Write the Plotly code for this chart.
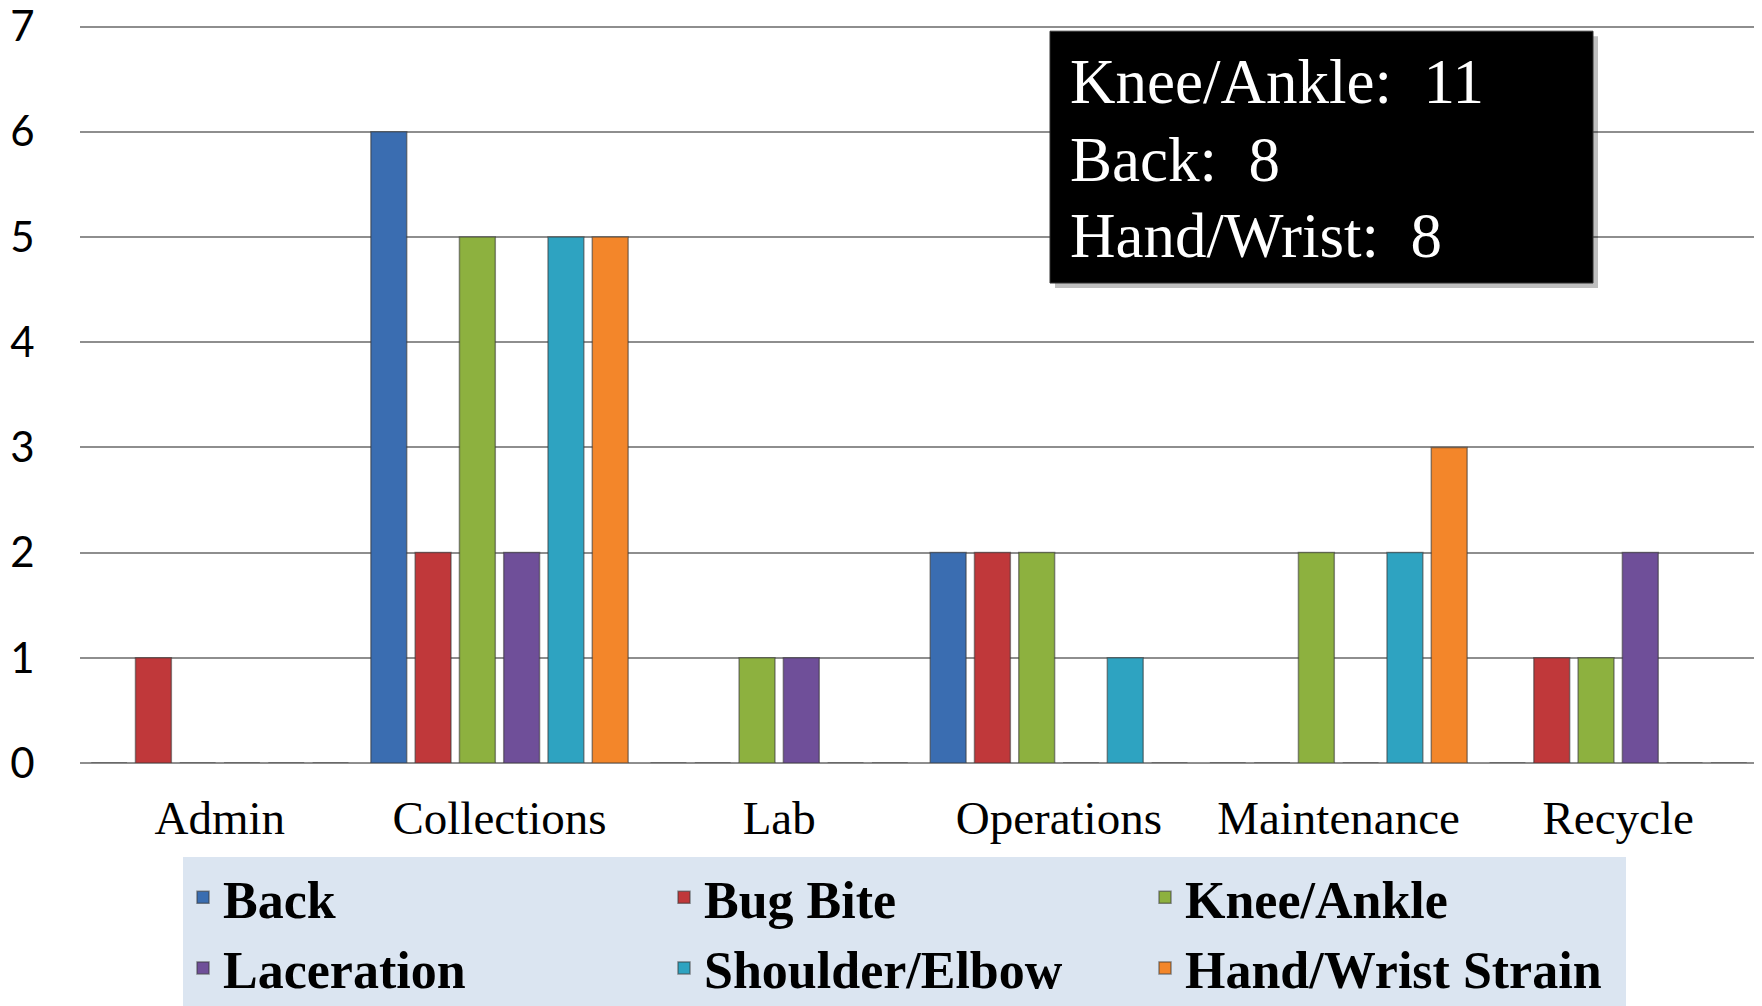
import plotly.graph_objects as go

categories = ["Admin", "Collections", "Lab", "Operations", "Maintenance", "Recycle"]
back = [0, 6, 0, 2, 0, 0]
bug_bite = [1, 2, 0, 2, 0, 1]
knee_ankle = [0, 5, 1, 2, 2, 1]
laceration = [0, 2, 1, 0, 0, 2]
shoulder_elbow = [0, 5, 0, 1, 2, 0]
hand_wrist = [0, 5, 0, 0, 3, 0]
y_ticks = [0, 1, 2, 3, 4, 5, 6, 7]

series = [
    ("Back", back, "#3a6db1"),
    ("Bug Bite", bug_bite, "#c0383a"),
    ("Knee/Ankle", knee_ankle, "#8db13f"),
    ("Laceration", laceration, "#6f4f99"),
    ("Shoulder/Elbow", shoulder_elbow, "#2ea3c1"),
    ("Hand/Wrist Strain", hand_wrist, "#f3862a"),
]

# The page body adds an 8px offset; size the figure so it fills the window.
OFF = 8
W, H = 1762 - OFF, 1006 - OFF
# plot area in screen pixels: left 80, top 24.8, bottom 763.3, right 1758
L = 80 - OFF
T = 24.8 - OFF
B = H - (763.3 - OFF)
R = W - (1758 - OFF)
pw = W - L - R
ph = H - T - B


def px_x(sx):
    return (sx - OFF - L) / pw


def px_y(sy):
    return (H - B - (sy - OFF)) / ph


fig = go.Figure()
for name, vals, col in series:
    fig.add_trace(go.Bar(
        x=categories, y=vals, name=name,
        marker=dict(color=col, line=dict(color="rgba(55,55,55,0.55)", width=1.5)),
    ))

serif = "Liberation Serif, Times New Roman, serif"

fig.update_layout(
    width=W, height=H,
    margin=dict(l=L, r=R, t=T, b=B, autoexpand=False),
    plot_bgcolor="white", paper_bgcolor="white",
    barmode="group", bargap=0.05, bargroupgap=0.19,
    xaxis=dict(
        showgrid=False, showline=False, zeroline=False, automargin=False,
        tickfont=dict(family=serif, size=47, color="black"),
        ticks="outside", ticklen=0, tickcolor="white",
        ticklabelstandoff=14,
    ),
    yaxis=dict(
        range=[0, 7.015], tickvals=y_ticks, automargin=False,
        showgrid=True, gridcolor="#8e8e8e", gridwidth=2,
        zeroline=True, zerolinecolor="#8e8e8e", zerolinewidth=2,
        showline=False,
        tickfont=dict(family="Lato, Open Sans, sans-serif", size=42, color="black"),
        ticks="outside", ticklen=0, tickcolor="white",
        ticklabelstandoff=36, ticklabeloverflow="allow",
    ),
    legend=dict(
        orientation="h",
        xref="container", yref="container",
        x=175 / W, xanchor="left",
        y=1 - (857 - OFF) / H, yanchor="top",
        bgcolor="#dbe5f1",
        font=dict(family=serif, size=52, color="black", weight="bold"),
        entrywidth=436, entrywidthmode="pixels",
        traceorder="normal",
    ),
    showlegend=True,
)

# Summary callout box (with soft shadow)
fig.add_shape(type="rect", xref="paper", yref="paper",
              x0=px_x(1055), x1=px_x(1598), y0=px_y(288), y1=px_y(36),
              fillcolor="rgba(0,0,0,0.25)", line=dict(width=0), layer="above")
fig.add_shape(type="rect", xref="paper", yref="paper",
              x0=px_x(1050), x1=px_x(1593), y0=px_y(283), y1=px_y(31),
              fillcolor="black", line=dict(color="#333333", width=1), layer="above")

totals = [
    ("Knee/Ankle", sum(knee_ankle), 82),
    ("Back", sum(back), 160),
    ("Hand/Wrist", sum(hand_wrist), 236),
]
for label, val, ypix in totals:
    fig.add_annotation(
        xref="paper", yref="paper", x=px_x(1068), y=px_y(ypix),
        xanchor="left", yanchor="middle", showarrow=False,
        text=f"{label}:&nbsp;&nbsp;{val}",
        font=dict(family=serif, size=63, color="white"),
    )

fig.write_html("out.html")
